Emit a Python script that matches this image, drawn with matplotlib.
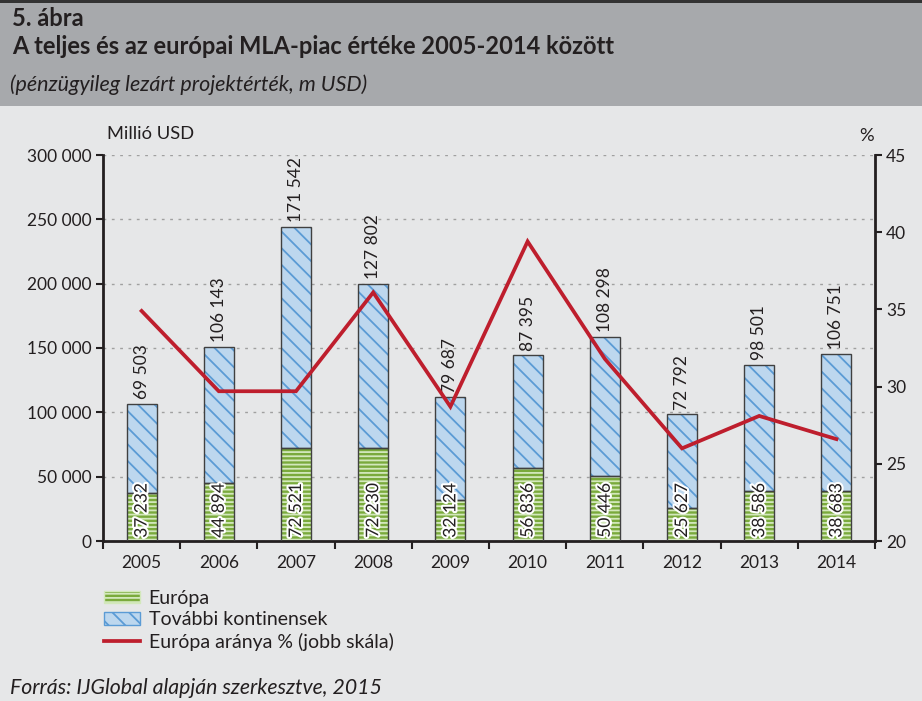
import matplotlib
matplotlib.use("Agg")
import matplotlib.pyplot as plt
import matplotlib.patheffects as pe
from matplotlib.patches import Rectangle, Patch
from matplotlib.lines import Line2D
import numpy as np

years = ["2005", "2006", "2007", "2008", "2009", "2010", "2011", "2012", "2013", "2014"]
europa = [37232, 44894, 72521, 72230, 32124, 56836, 50446, 25627, 38586, 38683]
tovabbi = [69503, 106143, 171542, 127802, 79687, 87395, 108298, 72792, 98501, 106751]
arany = [34.9, 29.7, 29.7, 36.1, 28.7, 39.4, 31.8, 26.0, 28.1, 26.6]
left_ticks = [0, 50000, 100000, 150000, 200000, 250000, 300000]
right_ticks = [20, 25, 30, 35, 40, 45]

FONT = ["Lato", "DejaVu Sans"]
plt.rcParams['font.family'] = FONT
plt.rcParams['hatch.linewidth'] = 1.3

TXT = "#231F20"
GREEN = "#7AAA3C"
GREEN_H = "#D3E8BC"
BLUE = "#BDD7EE"
BLUE_H = "#5B9BD5"
EDGE = "#404040"
RED = "#BE1E2D"

fig = plt.figure(figsize=(9.22, 7.01), dpi=100)
fig.patch.set_facecolor("#E6E7E8")

# header band
fig.patches.append(Rectangle((0, 1 - 106/701), 1, (106-3)/701, transform=fig.transFigure,
                             facecolor="#A7A9AC", edgecolor="none", zorder=0))
fig.patches.append(Rectangle((0, 1 - 3/701), 1, 3/701, transform=fig.transFigure,
                             facecolor="#333333", edgecolor="none", zorder=0))

fig.text(12/922, 1 - 18/701, "5. ábra", fontsize=17, fontweight="bold", color=TXT, va="center", ha="left")
fig.text(12/922, 1 - 47/701, "A teljes és az európai MLA-piac értéke 2005-2014 között", fontsize=17,
         fontweight="bold", color=TXT, va="center", ha="left")
fig.text(10/922, 1 - 85/701, "(pénzügyileg lezárt projektérték, m USD)", fontsize=15.5, style="italic",
         color=TXT, va="center", ha="left")
fig.text(10/922, 1 - 688/701, "Forrás: IJGlobal alapján szerkesztve, 2015", fontsize=15.3, style="italic",
         color=TXT, va="center", ha="left")

ax = fig.add_axes([103/922, 1 - 541/701, 772/922, 386/701])
ax.set_facecolor("none")
x = np.arange(len(years))
w = 0.39

ax.bar(x, europa, w, color=GREEN, edgecolor=GREEN_H, hatch="----", linewidth=0, zorder=2)
ax.bar(x, tovabbi, w, bottom=europa, color=BLUE, edgecolor=BLUE_H, hatch="\\\\", linewidth=0, zorder=2)
ax.bar(x, europa, w, facecolor="none", edgecolor=EDGE, linewidth=1.0, zorder=3)
ax.bar(x, tovabbi, w, bottom=europa, facecolor="none", edgecolor=EDGE, linewidth=1.0, zorder=3)

def fmt(v):
    return f"{int(v):,}".replace(",", " ")

for xi, e, t in zip(x, europa, tovabbi):
    ax.text(xi, e + t + 3500, fmt(t), rotation=90, ha="center", va="bottom", fontsize=12.5, color=TXT, zorder=5)
    ax.text(xi, 2500, fmt(e), rotation=90, ha="center", va="bottom", fontsize=12.5, color=TXT, zorder=5,
            path_effects=[pe.withStroke(linewidth=3, foreground="white")])

ax.set_xlim(-0.5, len(years) - 0.5)
ax.set_ylim(0, 300000)
ax.set_yticks(left_ticks)
ax.set_yticklabels([fmt(v) for v in left_ticks])
ax.yaxis.grid(True, linestyle=(0, (2, 4)), color="#A0A0A0", linewidth=1.0, zorder=1)
ax.set_axisbelow(True)
ax.set_xticks(x)
ax.set_xticklabels(years)
ax.set_xticks(np.arange(-0.5, len(years)), minor=True)
ax.tick_params(axis="x", which="major", length=0, pad=10, labelsize=12.5, colors=TXT)
ax.tick_params(axis="x", which="minor", length=6, width=1.5, color=TXT, direction="out")
ax.tick_params(axis="y", length=5, width=1.5, color=TXT, labelsize=12.5, labelcolor=TXT, pad=3)
for s in ["top", "right"]:
    ax.spines[s].set_visible(False)
for s in ["left", "bottom"]:
    ax.spines[s].set_linewidth(2)
    ax.spines[s].set_color(TXT)

ax2 = ax.twinx()
ax2.plot(x, arany, color=RED, linewidth=2.7, zorder=6, solid_joinstyle="miter")
ax2.set_ylim(20, 45)
ax2.set_yticks(right_ticks)
ax2.tick_params(axis="y", length=5, width=1.5, color=TXT, labelsize=12.5, labelcolor=TXT, pad=3)
for s in ["top", "left", "bottom"]:
    ax2.spines[s].set_visible(False)
ax2.spines["right"].set_linewidth(2)
ax2.spines["right"].set_color(TXT)

fig.text(107/922, 1 - 134/701, "Millió USD", fontsize=13.2, color=TXT, va="center", ha="left")
fig.text(867/922, 1 - 136/701, "%", fontsize=13.2, color=TXT, va="center", ha="center")

# legend
handles = [Patch(facecolor=GREEN, edgecolor=GREEN_H, hatch="----"),
           Patch(facecolor=BLUE, edgecolor=BLUE_H, hatch="\\\\"),
           Line2D([0], [0], color=RED, linewidth=2.7)]
labels = ["Európa", "További kontinensek", "Európa aránya % (jobb skála)"]
leg = fig.legend(handles, labels, loc="upper left", bbox_to_anchor=(104/922, 1 - 590/701), frameon=False,
                 fontsize=14, handlelength=1.85, handleheight=0.6, labelspacing=0.22, handletextpad=0.45,
                 borderaxespad=0, borderpad=0)
for t in leg.get_texts():
    t.set_color(TXT)

fig.savefig("out.png", dpi=100, facecolor=fig.get_facecolor())
